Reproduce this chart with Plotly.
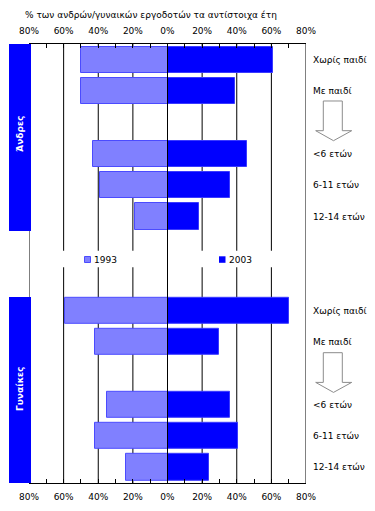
import plotly.graph_objects as go

# ---- data ----
categories = ["Χωρίς παιδί", "Με παιδί", "<6 ετών", "6-11 ετών", "12-14 ετών"]
row_order = ["Χωρίς παιδί", "Με παιδί", " ", "<6 ετών", "6-11 ετών", "12-14 ετών"]
men_1993 = [50, 50, 43, 39, 19]
men_2003 = [61, 39, 46, 36, 18]
women_1993 = [59, 42, 35, 42, 24]
women_2003 = [70, 30, 36, 41, 24]
tick_vals = [-80, -60, -40, -20, 0, 20, 40, 60, 80]
tick_text = ["80%", "60%", "40%", "20%", "0%", "20%", "40%", "60%", "80%"]
title_text = "% των ανδρών/γυναικών εργοδοτών τα αντίστοιχα έτη"
panel_names = ["Άνδρες", "Γυναίκες"]
series_names = ["1993", "2003"]

# ---- styling ----
FONT = "DejaVu Sans"
C93 = "#8080ff"
C93_LINE = "#4b4bff"
C03 = "#0000ff"
C03_LINE = "#3a3aff"

L, R, T, B = 29, 306, 44, 483
W, H = R - L, B - T


def px(x):
    return (x - L) / W


def py(y):
    return (B - y) / H


fig = go.Figure()

for i, (v93, v03) in enumerate([(men_1993, men_2003), (women_1993, women_2003)]):
    xa = "x" if i == 0 else "x2"
    ya = "y" if i == 0 else "y2"
    fig.add_trace(go.Bar(
        y=categories, x=[-v for v in v93], orientation="h", name=series_names[0],
        marker=dict(color=C93, line=dict(color=C93_LINE, width=1)),
        width=0.84, xaxis=xa, yaxis=ya, showlegend=False))
    fig.add_trace(go.Bar(
        y=categories, x=v03, orientation="h", name=series_names[1],
        marker=dict(color=C03, line=dict(color=C03_LINE, width=1)),
        width=0.84, xaxis=xa, yaxis=ya, showlegend=False))

xcommon = dict(range=[-80, 80], tickvals=tick_vals, ticktext=tick_text,
               showline=True, linecolor="black", linewidth=1,
               ticks="inside", ticklen=4, tickcolor="black", ticklabelstandoff=5,
               minor=dict(ticks="inside", ticklen=4, dtick=10, tick0=0, tickcolor="black"),
               showgrid=False, zeroline=False, fixedrange=True, automargin=False,
               tickfont=dict(family=FONT, size=9, color="black"))
ycommon = dict(type="category", categoryorder="array", categoryarray=row_order,
               range=[5.5, -0.5], side="right", ticks="", showgrid=False,
               zeroline=False, showline=False, ticklabelstandoff=6, automargin=False,
               fixedrange=True,
               tickfont=dict(family=FONT, size=9, color="black"))

fig.update_layout(
    width=375, height=511,
    margin=dict(l=L, r=375 - R, t=T, b=511 - B, pad=0, autoexpand=False),
    paper_bgcolor="white", plot_bgcolor="rgba(0,0,0,0)",
    barmode="relative", bargap=0,
    xaxis=dict(xcommon, side="top", anchor="y"),
    xaxis2=dict(xcommon, side="bottom", anchor="y2"),
    yaxis=dict(ycommon, domain=[py(232.3), 1], anchor="x"),
    yaxis2=dict(ycommon, domain=[0, py(294.8)], anchor="x2"),
    font=dict(family=FONT, size=9, color="black"),
)

shapes = []
# vertical grid lines spanning both panels
for v in tick_vals:
    shapes.append(dict(type="line", xref="x", yref="paper", x0=v, x1=v, y0=0, y1=1,
                       line=dict(color="black", width=1),
                       layer="above" if v == 0 else "below"))
# white strips behind legend
for x0, x1 in [(45, 158), (180, 295)]:
    shapes.append(dict(type="rect", xref="paper", yref="paper",
                       x0=px(x0), x1=px(x1), y0=py(267.3), y1=py(250.7),
                       fillcolor="white", line=dict(width=0), layer="below"))
# blue panel label boxes
for (y0, y1) in [(44, 231), (297, 483)]:
    shapes.append(dict(type="rect", xref="paper", yref="paper",
                       x0=px(9), x1=px(31), y0=py(y1), y1=py(y0),
                       fillcolor="#0000ff", line=dict(width=0), layer="above"))
# down arrows
for dy in [0, 251.7]:
    pts = [(323.3, 101), (342.3, 101), (342.3, 130.7), (351.7, 130.7),
           (333.5, 140.7), (315.7, 130.7), (323.3, 130.7)]
    path = "M " + " L ".join(f"{px(x):.5f},{py(y + dy):.5f}" for x, y in pts) + " Z"
    shapes.append(dict(type="path", xref="paper", yref="paper", path=path,
                       fillcolor="white", line=dict(color="#8c8c8c", width=1)))
# legend swatches
shapes.append(dict(type="rect", xref="paper", yref="paper",
                   x0=px(84.5), x1=px(90.5), y0=py(262.5), y1=py(256.5),
                   fillcolor=C93, line=dict(color=C93_LINE, width=1)))
shapes.append(dict(type="rect", xref="paper", yref="paper",
                   x0=px(219), x1=px(225.5), y0=py(262.8), y1=py(256.3),
                   fillcolor=C03, line=dict(width=0)))
fig.update_layout(shapes=shapes)

annotations = [
    dict(text=title_text, xref="paper", yref="paper", x=px(23), y=py(15),
         xanchor="left", yanchor="middle", showarrow=False,
         font=dict(family=FONT, size=9, color="black")),
    dict(text=series_names[0], xref="paper", yref="paper", x=px(92), y=py(259.5),
         xanchor="left", yanchor="middle", showarrow=False,
         font=dict(family=FONT, size=9, color="black")),
    dict(text=series_names[1], xref="paper", yref="paper", x=px(227), y=py(259.5),
         xanchor="left", yanchor="middle", showarrow=False,
         font=dict(family=FONT, size=9, color="black")),
]
for name, (y0, y1), yc in zip(panel_names, [(44, 231), (297, 483)], [134, 389]):
    annotations.append(dict(text=f"<b>{name}</b>", xref="paper", yref="paper",
                            x=px(20), y=py(yc), textangle=-90,
                            xanchor="center", yanchor="middle", showarrow=False,
                            font=dict(family=FONT, size=9, color="white")))
fig.update_layout(annotations=annotations)

fig.write_html(
    "out.html",
    config={"displayModeBar": False},
    post_script="document.body.style.margin='0';document.body.style.padding='0';"
                "document.body.style.overflow='hidden';",
)
